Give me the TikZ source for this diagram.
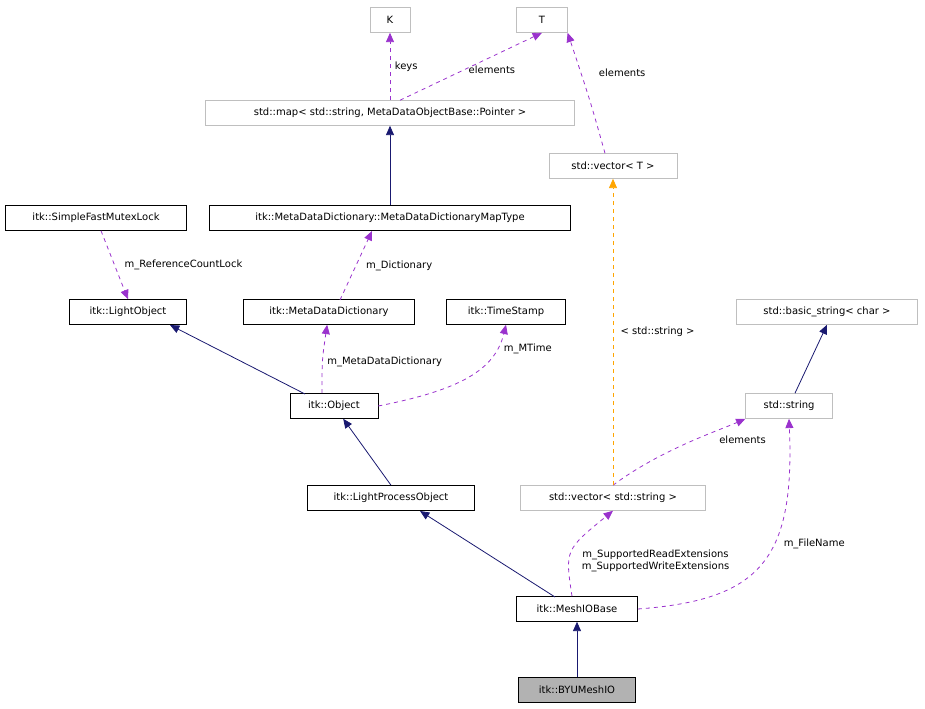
\documentclass[tikz,border=0pt]{standalone}
\usepackage{fontspec}
\setmainfont{DejaVu Sans}
\usetikzlibrary{arrows.meta}

\definecolor{navy}{HTML}{191970}
\definecolor{purp}{HTML}{9A32CD}
\definecolor{orng}{HTML}{FFA500}
\definecolor{tmpl}{HTML}{BFBFBF}

\tikzset{
  cls/.style={draw=black, fill=white, inner sep=0pt, minimum height=18.75pt, font=\fontsize{7.5}{9}\selectfont},
  tpl/.style={cls, draw=tmpl},
  cur/.style={cls, fill=gray!60},
  inh/.style={-{Triangle[length=7pt,width=6pt]}, navy, semithick},
  use/.style={-{Triangle[length=7pt,width=6pt]}, purp, semithick, dashed},
  tmp/.style={-{Triangle[length=7pt,width=6pt]}, orng, semithick, dashed},
  lbl/.style={font=\fontsize{7.5}{9}\selectfont, align=center, text=black}
}

\begin{document}
\begin{tikzpicture}[x=0.75pt,y=-0.75pt]
   \useasboundingbox (0,0) rectangle (925,709);

   % template classes
   \node[tpl, minimum width=30pt] (k) at (390,20) {K};
   \node[tpl, minimum width=38pt] (t) at (542,20) {T};
   \node[tpl, minimum width=277pt] (map) at (390,113) {std::map< std::string, MetaDataObjectBase::Pointer >};
   \node[tpl, minimum width=96pt] (vect) at (613,166) {std::vector< T >};
   \node[tpl, minimum width=136pt] (bstr) at (827,312) {std::basic\_string< char >};
   \node[tpl, minimum width=65pt] (str) at (789,406) {std::string};
   \node[tpl, minimum width=139pt] (vecs) at (613,498) {std::vector< std::string >};

   % itk classes
   \node[cls, minimum width=136pt] (mutex) at (96,218) {itk::SimpleFastMutexLock};
   \node[cls, minimum width=271pt] (maptype) at (390,218) {itk::MetaDataDictionary::MetaDataDictionaryMapType};
   \node[cls, minimum width=88pt] (lobj) at (128,312) {itk::LightObject};
   \node[cls, minimum width=128pt] (mdd) at (329,312) {itk::MetaDataDictionary};
   \node[cls, minimum width=89pt] (tstamp) at (506,312) {itk::TimeStamp};
   \node[cls, minimum width=66pt] (obj) at (334,406) {itk::Object};
   \node[cls, minimum width=125pt] (lpo) at (391,498) {itk::LightProcessObject};
   \node[cls, minimum width=91pt] (mesh) at (577,609) {itk::MeshIOBase};
   \node[cur, minimum width=88pt] (byu) at (577,690) {itk::BYUMeshIO};

   % end points
   \coordinate (o1) at (305,394);
   \coordinate (l1) at (170,325);
   \coordinate (m1) at (555,597);
   \coordinate (m2) at (420,511);
   \coordinate (d1) at (372,231);
   \coordinate (d2) at (340,300);

   % inheritance
   \draw[inh] (maptype) -- (map);
   \draw[inh] (o1) -- (l1);
   \draw[inh] (lpo.north) -- (obj);
   \draw[inh] (m1) -- (m2);
   \draw[inh] (byu) -- (mesh);
   \draw[inh] (str) -- (bstr.south);

   % usage
   \draw[use] (map) -- node[lbl, right] {keys} (k);
   \draw[use] (map.north) ++(10,0) -- node[lbl, right, pos=0.45] {elements} (t.south);
   \draw[use] (vect.north) ++(-8,0) .. controls (590,100) .. (t.south east) node[lbl, pos=0.75, right=10pt] {elements};
   \draw[use] (d2) -- node[lbl, right=4pt] {m\_Dictionary} (d1);
   \draw[use] (mutex) -- node[lbl, right=4pt] {m\_ReferenceCountLock} (lobj.north);
   \draw[use] (obj.north) ++(-12,0) .. controls (322,360) .. (mdd) node[lbl, pos=0.45, right] {m\_MetaDataDictionary};
   \draw[use] (obj.east) .. controls (460,390) and (495,370) .. (tstamp.south) node[lbl, pos=0.8, right=2pt] {m\_MTime};
   \draw[use] (mesh.north) ++(-5,0) .. controls (565,550) .. (vecs.south) node[lbl, pos=0.35, right=6pt] {m\_SupportedReadExtensions\\m\_SupportedWriteExtensions};
   \draw[use] (vecs.north) .. controls (660,450) and (720,430) .. (str.south west) node[lbl, pos=0.7, below right] {elements};
   \draw[use] (mesh.east) .. controls (760,600) and (795,560) .. (str.south) node[lbl, pos=0.6, right=4pt] {m\_FileName};
   \draw[tmp] (vecs) -- node[lbl, right=2pt] {< std::string >} (vect);
\end{tikzpicture}
\end{document}
